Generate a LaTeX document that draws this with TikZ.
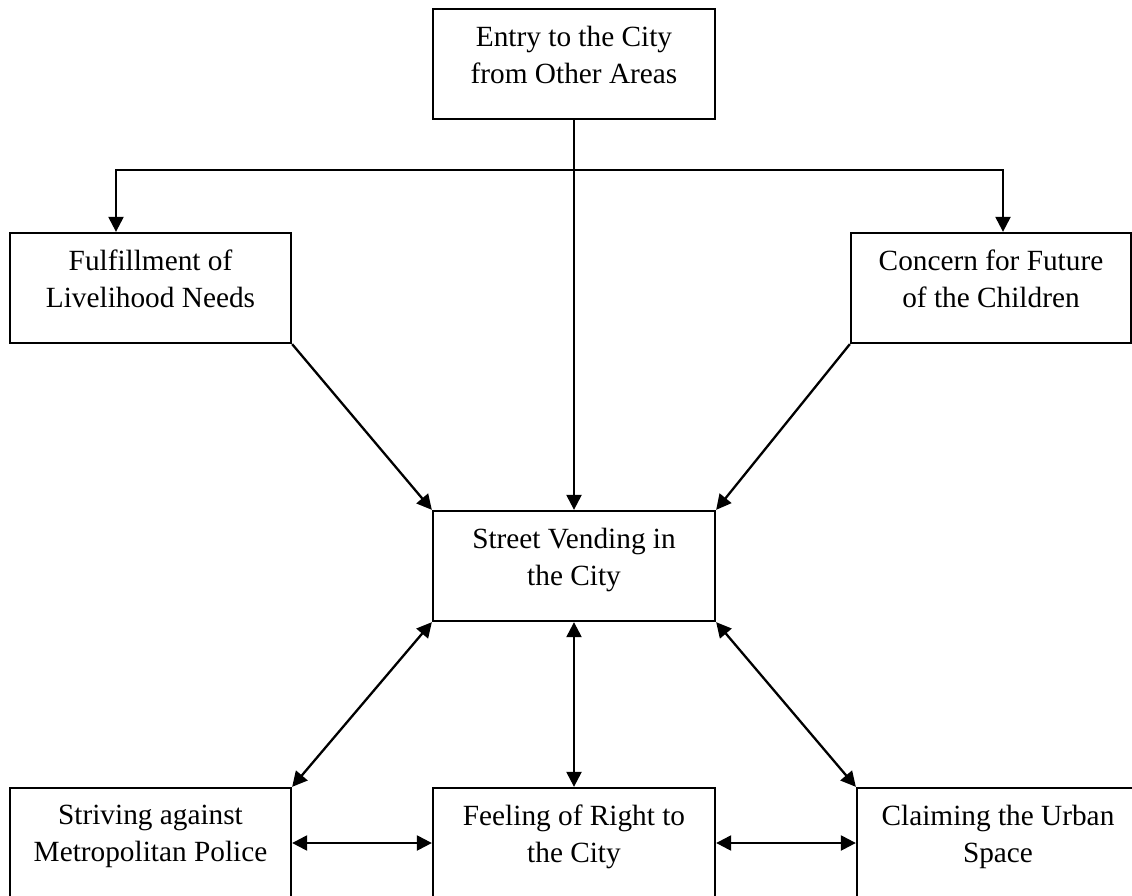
\documentclass[tikz,border=0pt]{standalone}
\usepackage{fontspec}
\setmainfont{Liberation Serif}
\usetikzlibrary{arrows.meta}
\begin{document}
\begin{tikzpicture}[x=1pt, y=1pt, line width=2.3pt,
		box/.style={rectangle, draw, align=center, minimum width=282pt,
		minimum height=110pt, font=\fontsize{29.3}{37}\selectfont, text depth=19pt},
		arr/.style={-{Triangle[length=15pt,width=15pt]}},
		dblarr/.style={{Triangle[length=15pt,width=15pt]}-{Triangle[length=15pt,width=15pt]}} ]
	\clip (0,0) rectangle (1132,-896);
	\node[box] (entry) at (574,-64) {Entry to the City\\from Other Areas};
	\node[box, minimum width=281pt] (needs) at (150.5,-288) {Fulfillment of\\Livelihood Needs};
	\node[box, minimum width=280pt] (children) at (991,-288) {Concern for Future\\of the Children};
	\node[box] (vending) at (574,-566) {Street Vending in\\the City};
	\node[box, minimum width=281pt] (police) at (150.5,-843) {Striving against\\Metropolitan Police};
	\node[box] (right) at (574,-843) {Feeling of Right to\\the City};
	\node[box] (urban) at (998,-843) {Claiming the Urban\\Space};
	\coordinate (split) at (574,-170);
	\draw[arr] (entry.south) -- (vending.north);
	\draw[arr] (split) -| ([xshift=-34.5pt]needs.north);
	\draw[arr] (split) -| ([xshift=12pt]children.north);
	\draw[arr] (needs.south east) -- (vending.north west);
	\draw[arr] (children.south west) -- (vending.north east);
	\draw[dblarr] (vending.south west) -- (police.north east);
	\draw[dblarr] (vending.south) -- (right.north);
	\draw[dblarr] (vending.south east) -- (urban.north west);
	\draw[dblarr] (police.east) -- (right.west);
	\draw[dblarr] (right.east) -- (urban.west);
\end{tikzpicture}
\end{document}
